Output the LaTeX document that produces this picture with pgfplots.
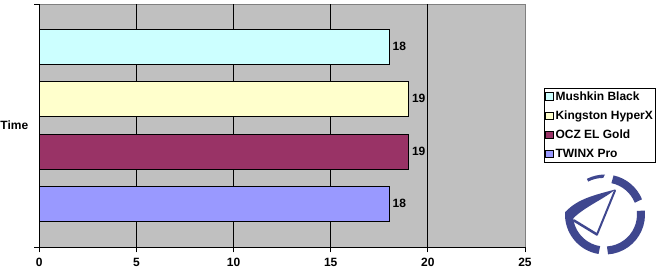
\documentclass[border=0pt]{standalone}
\usepackage{pgfplots}
\pgfplotsset{compat=1.18}
\usepackage{fontspec}
\setmainfont{Liberation Sans}
\definecolor{plotgray}{HTML}{C0C0C0}
\definecolor{framegray}{HTML}{808080}
\definecolor{cMushkin}{HTML}{CCFFFF}
\definecolor{cKingston}{HTML}{FFFFCC}
\definecolor{cOCZ}{HTML}{993366}
\definecolor{cTwinx}{HTML}{9999FF}
\definecolor{logoblue}{HTML}{3F478F}
\newcommand\chfont{\fontsize{12}{13.5}\selectfont\bfseries}
\begin{document}
\begin{tikzpicture}[x=1pt,y=1pt]
\path[use as bounding box, fill=white] (0,0) rectangle (662,274);
\begin{axis}[
  at={(39.3pt,26.7pt)}, anchor=south west,
  width=485.7pt, height=243.3pt, scale only axis,
  xmin=0, xmax=25, ymin=0, ymax=243.3,
  axis background/.style={fill=plotgray, draw=framegray},
  axis x line*=bottom, axis y line*=left,
  axis line style={black, -},
  xbar, bar width=34.7, bar shift=0pt,
  xtick={0,5,...,25},
  ytick={0,243.3}, yticklabels={},
  extra y ticks={121.6}, extra y tick labels={Time},
  extra y tick style={major tick length=0pt, grid=none, yticklabel style={xshift=-7.5pt}},
  tick align=outside, major tick length=5pt,
  tick style={black, line width=0.8pt},
  xmajorgrids, major grid style={black, line width=0.8pt},
  /pgf/number format/assume math mode=true,
  tick label style={font=\chfont},
  xticklabel style={yshift=-2.5pt},
  point meta=x,
  nodes near coords,
  nodes near coords style={anchor=west, font=\chfont, xshift=0pt},
  legend image code/.code={\draw[#1, draw=black, line width=0.6pt] (0pt,-3.8pt) rectangle (7.6pt,3.8pt);},
  legend style={at={(1.04,0.502)}, anchor=west, draw=black, fill=white, line width=0.8pt,
    font=\chfont, cells={anchor=west},
    row sep=5pt, inner xsep=0.5pt, inner ysep=1.5pt},
  clip=false,
]
\addplot[fill=cMushkin, draw=black, line width=0.6pt] coordinates {(18,200.6)};
\addlegendentry{Mushkin Black}
\addplot[fill=cKingston, draw=black, line width=0.6pt] coordinates {(19,148.5)};
\addlegendentry{Kingston HyperX}
\addplot[fill=cOCZ, draw=black, line width=0.6pt] coordinates {(19,95.8)};
\addlegendentry{OCZ EL Gold}
\addplot[fill=cTwinx, draw=black, line width=0.6pt] coordinates {(18,43.5)};
\addlegendentry{TWINX Pro}
\draw[framegray, line width=0.8pt] (rel axis cs:1,0) -- (rel axis cs:1,1);
\end{axis}
\begin{scope}[shift={(605,59.5)}, color=logoblue]
\draw[line width=8pt] (78:36) arc (78:22:36);
\draw[line width=8pt] (6:36) arc (6:-86:36);
\draw[line width=8pt] (-99:36) arc (-99:-184:36);
\fill (90:40) arc (90:117:40) -- (117:37) arc (117:90:33) -- cycle;
\fill (-40,2) .. controls (-28,16) and (-8,20) .. (10,25) .. controls (0,16) and (-20,8) .. (-32,-4) -- cycle;
\draw[line width=2pt, line cap=round] (10,24) -- (-8,-20);
\draw[line width=2.5pt, line cap=round] (-8,-20) -- (-31,-6);
\end{scope}
\end{tikzpicture}
\end{document}
